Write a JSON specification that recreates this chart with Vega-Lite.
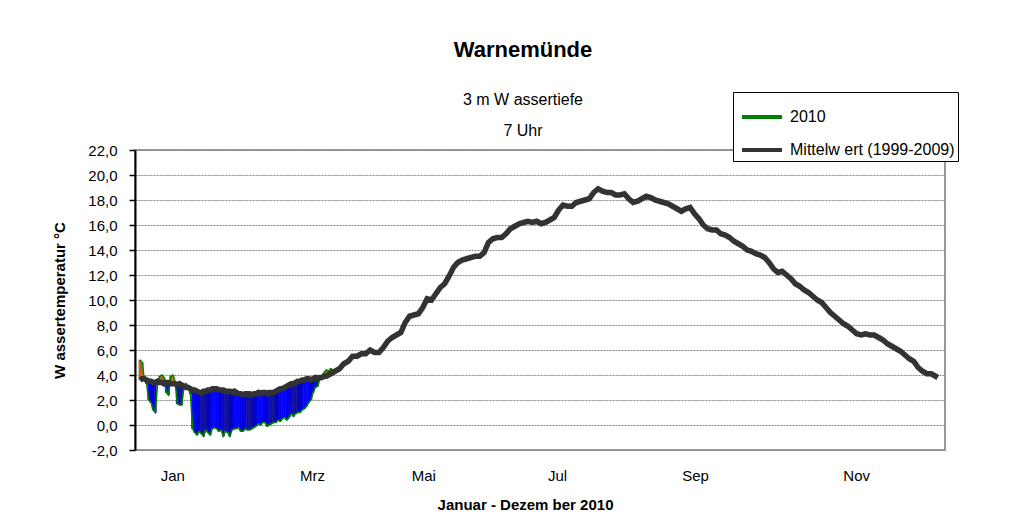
{
  "$schema": "https://vega.github.io/schema/vega-lite/v6.json",
  "autosize": {"type": "none"},
  "width": 810,
  "height": 300,
  "padding": {"left": 135, "top": 150, "right": 83, "bottom": 76},
  "background": "white",
  "config": {
    "font": "Liberation Sans",
    "view": {"stroke": "#999999", "strokeWidth": 2},
    "axis": {"labelColor": "black", "titleColor": "black", "labelFont": "Liberation Sans", "titleFont": "Liberation Sans"},
    "legend": {"labelFont": "Liberation Sans", "labelColor": "black"}
  },
  "title": {
    "text": "Warnemünde",
    "subtitle": ["3 m W assertiefe", "7 Uhr"],
    "font": "Liberation Sans",
    "fontSize": 22,
    "fontWeight": "bold",
    "color": "black",
    "subtitleFont": "Liberation Sans",
    "subtitleFontSize": 16,
    "subtitleColor": "black",
    "subtitleLineHeight": 31,
    "subtitlePadding": 30,
    "offset": -48,
    "anchor": "middle",
    "dx": -17
  },
  "data": {
    "values": [
      {"t": "2010-01-01", "m": 3.6, "w": 5.2},
      {"t": "2010-01-02", "m": 3.7, "w": 5.0},
      {"t": "2010-01-03", "m": 3.7, "w": 3.6},
      {"t": "2010-01-04", "m": 3.6, "w": 3.3},
      {"t": "2010-01-05", "m": 3.5, "w": 2.0},
      {"t": "2010-01-06", "m": 3.5, "w": 1.8},
      {"t": "2010-01-07", "m": 3.4, "w": 1.2},
      {"t": "2010-01-08", "m": 3.4, "w": 1.0},
      {"t": "2010-01-09", "m": 3.5, "w": 3.2},
      {"t": "2010-01-10", "m": 3.4, "w": 3.9},
      {"t": "2010-01-11", "m": 3.4, "w": 4.0},
      {"t": "2010-01-12", "m": 3.3, "w": 3.8},
      {"t": "2010-01-13", "m": 3.4, "w": 2.6},
      {"t": "2010-01-14", "m": 3.4, "w": 2.4},
      {"t": "2010-01-15", "m": 3.3, "w": 3.9},
      {"t": "2010-01-16", "m": 3.3, "w": 4.0},
      {"t": "2010-01-17", "m": 3.3, "w": 3.5},
      {"t": "2010-01-18", "m": 3.2, "w": 1.7},
      {"t": "2010-01-19", "m": 3.3, "w": 1.6},
      {"t": "2010-01-20", "m": 3.2, "w": 1.6},
      {"t": "2010-01-21", "m": 3.1, "w": 2.9},
      {"t": "2010-01-22", "m": 3.0, "w": 3.3},
      {"t": "2010-01-23", "m": 3.0, "w": 3.1},
      {"t": "2010-01-24", "m": 2.9, "w": 2.5},
      {"t": "2010-01-25", "m": 2.8, "w": -0.3},
      {"t": "2010-01-26", "m": 2.8, "w": -0.6},
      {"t": "2010-01-27", "m": 2.7, "w": -0.8},
      {"t": "2010-01-28", "m": 2.6, "w": -0.5},
      {"t": "2010-01-29", "m": 2.6, "w": -0.7},
      {"t": "2010-01-30", "m": 2.7, "w": -0.9},
      {"t": "2010-01-31", "m": 2.7, "w": -0.4},
      {"t": "2010-02-01", "m": 2.8, "w": -0.6},
      {"t": "2010-02-02", "m": 2.8, "w": -0.8},
      {"t": "2010-02-03", "m": 2.9, "w": -0.3},
      {"t": "2010-02-04", "m": 2.9, "w": -0.2},
      {"t": "2010-02-05", "m": 2.9, "w": -0.3},
      {"t": "2010-02-06", "m": 2.8, "w": -0.5},
      {"t": "2010-02-07", "m": 2.8, "w": -0.4},
      {"t": "2010-02-08", "m": 2.8, "w": -0.9},
      {"t": "2010-02-09", "m": 2.7, "w": -0.5},
      {"t": "2010-02-10", "m": 2.7, "w": -0.6},
      {"t": "2010-02-11", "m": 2.7, "w": -0.9},
      {"t": "2010-02-12", "m": 2.6, "w": -0.4},
      {"t": "2010-02-13", "m": 2.7, "w": -0.3},
      {"t": "2010-02-14", "m": 2.6, "w": -0.3},
      {"t": "2010-02-15", "m": 2.5, "w": -0.2},
      {"t": "2010-02-16", "m": 2.5, "w": -0.5},
      {"t": "2010-02-17", "m": 2.4, "w": -0.5},
      {"t": "2010-02-18", "m": 2.5, "w": -0.3},
      {"t": "2010-02-19", "m": 2.5, "w": -0.4},
      {"t": "2010-02-20", "m": 2.5, "w": -0.4},
      {"t": "2010-02-21", "m": 2.4, "w": -0.3},
      {"t": "2010-02-22", "m": 2.5, "w": -0.2},
      {"t": "2010-02-23", "m": 2.5, "w": -0.1},
      {"t": "2010-02-24", "m": 2.6, "w": 0.1},
      {"t": "2010-02-25", "m": 2.5, "w": 0.0},
      {"t": "2010-02-26", "m": 2.6, "w": 0.2},
      {"t": "2010-02-27", "m": 2.6, "w": 0.2},
      {"t": "2010-02-28", "m": 2.5, "w": -0.1},
      {"t": "2010-03-01", "m": 2.6, "w": 0.0},
      {"t": "2010-03-02", "m": 2.6, "w": 0.1},
      {"t": "2010-03-03", "m": 2.6, "w": 0.2},
      {"t": "2010-03-04", "m": 2.7, "w": 0.2},
      {"t": "2010-03-05", "m": 2.8, "w": 0.4},
      {"t": "2010-03-06", "m": 2.9, "w": 0.3},
      {"t": "2010-03-07", "m": 2.9, "w": 0.5},
      {"t": "2010-03-08", "m": 3.0, "w": 0.6},
      {"t": "2010-03-09", "m": 3.1, "w": 0.4},
      {"t": "2010-03-10", "m": 3.2, "w": 0.6},
      {"t": "2010-03-11", "m": 3.3, "w": 0.9},
      {"t": "2010-03-12", "m": 3.3, "w": 0.7},
      {"t": "2010-03-13", "m": 3.4, "w": 0.9},
      {"t": "2010-03-14", "m": 3.5, "w": 1.0},
      {"t": "2010-03-15", "m": 3.5, "w": 1.0},
      {"t": "2010-03-16", "m": 3.6, "w": 1.2},
      {"t": "2010-03-17", "m": 3.6, "w": 1.3},
      {"t": "2010-03-18", "m": 3.7, "w": 1.5},
      {"t": "2010-03-19", "m": 3.7, "w": 1.8},
      {"t": "2010-03-20", "m": 3.6, "w": 2.0},
      {"t": "2010-03-21", "m": 3.7, "w": 2.6},
      {"t": "2010-03-22", "m": 3.8, "w": 3.0},
      {"t": "2010-03-23", "m": 3.7, "w": 3.1},
      {"t": "2010-03-24", "m": 3.8, "w": 3.6},
      {"t": "2010-03-25", "m": 3.8, "w": 3.9},
      {"t": "2010-03-26", "m": 3.9, "w": 4.2},
      {"t": "2010-03-27", "m": 3.9, "w": 4.4},
      {"t": "2010-03-28", "m": 4.0, "w": 4.3},
      {"t": "2010-03-29", "m": 4.1, "w": 4.5},
      {"t": "2010-03-30", "m": 4.2, "w": 4.4},
      {"t": "2010-03-31", "m": 4.3, "w": 4.3},
      {"t": "2010-04-01", "m": 4.4},
      {"t": "2010-04-02", "m": 4.5},
      {"t": "2010-04-04", "m": 4.9},
      {"t": "2010-04-06", "m": 5.1},
      {"t": "2010-04-08", "m": 5.5},
      {"t": "2010-04-10", "m": 5.5},
      {"t": "2010-04-12", "m": 5.7},
      {"t": "2010-04-14", "m": 5.7},
      {"t": "2010-04-16", "m": 6.0},
      {"t": "2010-04-18", "m": 5.8},
      {"t": "2010-04-20", "m": 5.8},
      {"t": "2010-04-22", "m": 6.2},
      {"t": "2010-04-24", "m": 6.7},
      {"t": "2010-04-26", "m": 7.0},
      {"t": "2010-04-28", "m": 7.2},
      {"t": "2010-04-30", "m": 7.4},
      {"t": "2010-05-02", "m": 8.2},
      {"t": "2010-05-04", "m": 8.7},
      {"t": "2010-05-06", "m": 8.8},
      {"t": "2010-05-08", "m": 8.9},
      {"t": "2010-05-10", "m": 9.4},
      {"t": "2010-05-12", "m": 10.1},
      {"t": "2010-05-14", "m": 10.0},
      {"t": "2010-05-16", "m": 10.5},
      {"t": "2010-05-18", "m": 11.0},
      {"t": "2010-05-20", "m": 11.3},
      {"t": "2010-05-22", "m": 11.9},
      {"t": "2010-05-24", "m": 12.6},
      {"t": "2010-05-26", "m": 13.0},
      {"t": "2010-05-28", "m": 13.2},
      {"t": "2010-05-30", "m": 13.3},
      {"t": "2010-06-01", "m": 13.4},
      {"t": "2010-06-03", "m": 13.5},
      {"t": "2010-06-05", "m": 13.5},
      {"t": "2010-06-07", "m": 13.8},
      {"t": "2010-06-09", "m": 14.6},
      {"t": "2010-06-11", "m": 14.9},
      {"t": "2010-06-13", "m": 15.0},
      {"t": "2010-06-15", "m": 15.0},
      {"t": "2010-06-17", "m": 15.3},
      {"t": "2010-06-19", "m": 15.7},
      {"t": "2010-06-21", "m": 15.9},
      {"t": "2010-06-23", "m": 16.1},
      {"t": "2010-06-25", "m": 16.2},
      {"t": "2010-06-27", "m": 16.3},
      {"t": "2010-06-29", "m": 16.2},
      {"t": "2010-07-01", "m": 16.3},
      {"t": "2010-07-03", "m": 16.1},
      {"t": "2010-07-05", "m": 16.2},
      {"t": "2010-07-07", "m": 16.4},
      {"t": "2010-07-09", "m": 16.6},
      {"t": "2010-07-11", "m": 17.2},
      {"t": "2010-07-13", "m": 17.6},
      {"t": "2010-07-15", "m": 17.5},
      {"t": "2010-07-17", "m": 17.5},
      {"t": "2010-07-19", "m": 17.8},
      {"t": "2010-07-21", "m": 17.9},
      {"t": "2010-07-23", "m": 18.0},
      {"t": "2010-07-25", "m": 18.1},
      {"t": "2010-07-27", "m": 18.6},
      {"t": "2010-07-29", "m": 18.9},
      {"t": "2010-07-31", "m": 18.7},
      {"t": "2010-08-02", "m": 18.6},
      {"t": "2010-08-04", "m": 18.6},
      {"t": "2010-08-06", "m": 18.4},
      {"t": "2010-08-08", "m": 18.4},
      {"t": "2010-08-10", "m": 18.5},
      {"t": "2010-08-12", "m": 18.1},
      {"t": "2010-08-14", "m": 17.8},
      {"t": "2010-08-16", "m": 17.9},
      {"t": "2010-08-18", "m": 18.1},
      {"t": "2010-08-20", "m": 18.3},
      {"t": "2010-08-22", "m": 18.2},
      {"t": "2010-08-24", "m": 18.0},
      {"t": "2010-08-26", "m": 17.9},
      {"t": "2010-08-28", "m": 17.8},
      {"t": "2010-08-30", "m": 17.7},
      {"t": "2010-09-01", "m": 17.5},
      {"t": "2010-09-03", "m": 17.3},
      {"t": "2010-09-05", "m": 17.1},
      {"t": "2010-09-07", "m": 17.3},
      {"t": "2010-09-09", "m": 17.4},
      {"t": "2010-09-11", "m": 16.9},
      {"t": "2010-09-13", "m": 16.5},
      {"t": "2010-09-15", "m": 16.0},
      {"t": "2010-09-17", "m": 15.7},
      {"t": "2010-09-19", "m": 15.6},
      {"t": "2010-09-21", "m": 15.6},
      {"t": "2010-09-23", "m": 15.3},
      {"t": "2010-09-25", "m": 15.2},
      {"t": "2010-09-27", "m": 15.0},
      {"t": "2010-09-29", "m": 14.7},
      {"t": "2010-10-01", "m": 14.5},
      {"t": "2010-10-03", "m": 14.3},
      {"t": "2010-10-05", "m": 14.0},
      {"t": "2010-10-07", "m": 13.9},
      {"t": "2010-10-09", "m": 13.7},
      {"t": "2010-10-11", "m": 13.6},
      {"t": "2010-10-13", "m": 13.4},
      {"t": "2010-10-15", "m": 13.0},
      {"t": "2010-10-17", "m": 12.5},
      {"t": "2010-10-19", "m": 12.2},
      {"t": "2010-10-21", "m": 12.3},
      {"t": "2010-10-23", "m": 12.0},
      {"t": "2010-10-25", "m": 11.7},
      {"t": "2010-10-27", "m": 11.3},
      {"t": "2010-10-29", "m": 11.1},
      {"t": "2010-10-31", "m": 10.8},
      {"t": "2010-11-02", "m": 10.6},
      {"t": "2010-11-04", "m": 10.3},
      {"t": "2010-11-06", "m": 10.0},
      {"t": "2010-11-08", "m": 9.8},
      {"t": "2010-11-10", "m": 9.4},
      {"t": "2010-11-12", "m": 9.0},
      {"t": "2010-11-14", "m": 8.7},
      {"t": "2010-11-16", "m": 8.4},
      {"t": "2010-11-18", "m": 8.1},
      {"t": "2010-11-20", "m": 7.9},
      {"t": "2010-11-22", "m": 7.6},
      {"t": "2010-11-24", "m": 7.3},
      {"t": "2010-11-26", "m": 7.2},
      {"t": "2010-11-28", "m": 7.3},
      {"t": "2010-11-30", "m": 7.2},
      {"t": "2010-12-02", "m": 7.2},
      {"t": "2010-12-04", "m": 7.0},
      {"t": "2010-12-06", "m": 6.8},
      {"t": "2010-12-08", "m": 6.5},
      {"t": "2010-12-10", "m": 6.3},
      {"t": "2010-12-12", "m": 6.1},
      {"t": "2010-12-14", "m": 5.9},
      {"t": "2010-12-16", "m": 5.6},
      {"t": "2010-12-18", "m": 5.3},
      {"t": "2010-12-20", "m": 5.1},
      {"t": "2010-12-22", "m": 4.6},
      {"t": "2010-12-24", "m": 4.3},
      {"t": "2010-12-26", "m": 4.1},
      {"t": "2010-12-28", "m": 4.1},
      {"t": "2010-12-30", "m": 3.9},
      {"t": "2010-12-31", "m": 3.8}
    ]
  },
  "encoding": {
    "x": {
      "field": "t",
      "type": "temporal",
      "scale": {"domain": [{"year": 2010, "month": 1, "date": 1}, {"year": 2011, "month": 1, "date": 1}]},
      "axis": {
        "values": [
          {"year": 2010, "month": 1, "date": 15, "hours": 18},
          {"year": 2010, "month": 3, "date": 20, "hours": 12},
          {"year": 2010, "month": 5, "date": 10, "hours": 6},
          {"year": 2010, "month": 7, "date": 10, "hours": 6},
          {"year": 2010, "month": 9, "date": 11, "hours": 6},
          {"year": 2010, "month": 11, "date": 23, "hours": 18}
        ],
        "labelExpr": "['Jan','Feb','Mrz','Apr','Mai','Jun','Jul','Aug','Sep','Okt','Nov','Dez'][month(datum.value)]",
        "ticks": false,
        "grid": false,
        "domain": false,
        "labelOverlap": false,
        "labelFlush": false,
        "labelPadding": 18,
        "labelFontSize": 15,
        "title": "Januar - Dezem ber 2010",
        "titleFontSize": 15,
        "titleFontWeight": "bold",
        "titlePadding": 14,
        "titleX": 390
      }
    }
  },
  "layer": [
    {
      "transform": [{"filter": "isValid(datum.w)"}],
      "mark": {"type": "bar", "size": 2.3, "stroke": "black", "strokeWidth": 0.3},
      "encoding": {
        "y": {
          "field": "m",
          "type": "quantitative",
          "scale": {"domain": [-2, 22], "nice": false, "zero": false},
          "axis": {
            "values": [-2, 0, 2, 4, 6, 8, 10, 12, 14, 16, 18, 20, 22],
            "labelExpr": "replace(replace(format(datum.value, '.1f'), '.', ','), '\u2212', '-')",
            "labelOverlap": false,
            "labelFontSize": 15,
            "labelPadding": 12,
            "domainColor": "black",
            "domainWidth": 2,
            "tickColor": "black",
            "tickSize": 6,
            "tickWidth": 1.5,
            "gridColor": "#888888",
            "gridDash": [2, 1],
            "gridWidth": 1,
            "title": "W assertemperatur °C",
            "titleFontSize": 15,
            "titleFontWeight": "bold",
            "titlePadding": 20
          }
        },
        "y2": {"field": "w"},
        "fill": {
          "condition": {"test": "datum.w < datum.m", "value": "#0000FF"},
          "value": "#F07820"
        }
      }
    },
    {
      "transform": [{"filter": "isValid(datum.w)"}],
      "mark": {"type": "line"},
      "encoding": {
        "y": {
          "field": "w",
          "type": "quantitative",
          "axis": {
            "values": [-2, 0, 2, 4, 6, 8, 10, 12, 14, 16, 18, 20, 22],
            "labelExpr": "replace(replace(format(datum.value, '.1f'), '.', ','), '\u2212', '-')",
            "labelOverlap": false,
            "labelFontSize": 15,
            "labelPadding": 12,
            "domainColor": "black",
            "domainWidth": 2,
            "tickColor": "black",
            "tickSize": 6,
            "tickWidth": 1.5,
            "gridColor": "#888888",
            "gridDash": [2, 1],
            "gridWidth": 1,
            "title": "W assertemperatur °C",
            "titleFontSize": 15,
            "titleFontWeight": "bold",
            "titlePadding": 20
          }
        },
        "color": {
          "datum": "2010",
          "scale": {"domain": ["2010", "Mittelw ert (1999-2009)"], "range": ["#008000", "#333333"]},
          "legend": {
            "orient": "none",
            "legendX": 598,
            "legendY": -58,
            "title": null,
            "strokeColor": "black",
            "fillColor": "white",
            "padding": 3,
            "symbolType": "stroke",
            "symbolSize": 1600,
            "symbolStrokeWidth": 4,
            "symbolOffset": 4,
            "labelFontSize": 16,
            "labelOffset": 6,
            "labelLimit": 400,
            "rowPadding": 3
          }
        },
        "strokeWidth": {"value": 1.5}
      }
    },
    {
      "mark": {"type": "line"},
      "encoding": {
        "y": {
          "field": "m",
          "type": "quantitative",
          "axis": {
            "values": [-2, 0, 2, 4, 6, 8, 10, 12, 14, 16, 18, 20, 22],
            "labelExpr": "replace(replace(format(datum.value, '.1f'), '.', ','), '\u2212', '-')",
            "labelOverlap": false,
            "labelFontSize": 15,
            "labelPadding": 12,
            "domainColor": "black",
            "domainWidth": 2,
            "tickColor": "black",
            "tickSize": 6,
            "tickWidth": 1.5,
            "gridColor": "#888888",
            "gridDash": [2, 1],
            "gridWidth": 1,
            "title": "W assertemperatur °C",
            "titleFontSize": 15,
            "titleFontWeight": "bold",
            "titlePadding": 20
          }
        },
        "color": {"datum": "Mittelw ert (1999-2009)"},
        "strokeWidth": {"value": 5.5}
      }
    }
  ]
}
